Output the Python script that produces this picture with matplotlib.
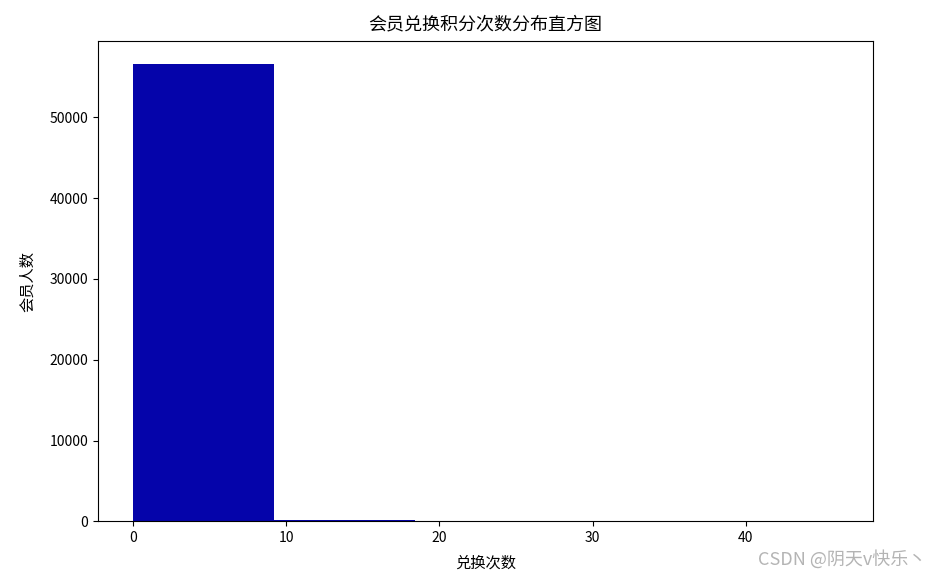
import matplotlib.pyplot as plt
import numpy as np

plt.rcParams['font.family'] = ['Noto Sans CJK SC', 'DejaVu Sans']
plt.rcParams['axes.unicode_minus'] = False

# histogram of exchange counts (5 bins over 0..46)
bin_edges = [0, 9.2, 18.4, 27.6, 36.8, 46]
bin_counts = [56570, 150, 25, 8, 2]

centers = [(a + b) / 2 for a, b in zip(bin_edges[:-1], bin_edges[1:])]

fig = plt.figure(figsize=(9.38, 5.76), dpi=100)
ax = fig.add_axes([0.1045, 0.095, 0.826, 0.833])
ax.hist(centers, bins=bin_edges, weights=bin_counts, color='#0504aa')
ax.set_title('会员兑换积分次数分布直方图', fontsize=13, pad=9)
ax.set_xlabel('兑换次数', fontsize=11, labelpad=7)
ax.set_ylabel('会员人数', fontsize=11, labelpad=10)
ax.tick_params(labelsize=10)

fig.text(0.987, 0.012, 'CSDN @阴天v快乐丶', color='#b4b4b4', fontsize=13, ha='right', va='bottom')

fig.savefig('out.png')
